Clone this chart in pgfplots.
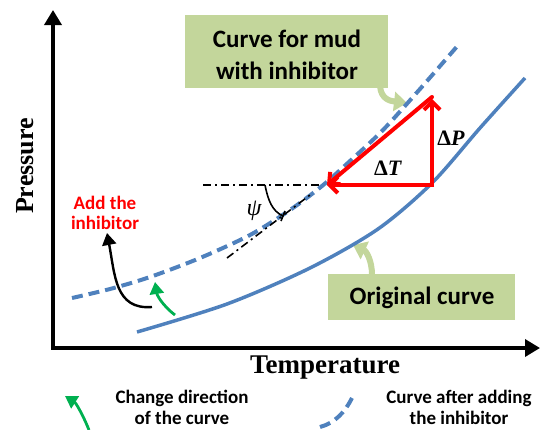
\documentclass[border=0pt]{standalone}
\usepackage{pgfplots}
\pgfplotsset{compat=1.18}
\usepackage{fontspec}
\setmainfont{Liberation Serif}
\newfontfamily\calibri{Carlito}
\usetikzlibrary{arrows.meta}
\definecolor{cblue}{RGB}{79,129,189}
\definecolor{cgreenbox}{RGB}{195,214,155}
\definecolor{cgreen}{RGB}{0,176,80}
\begin{document}
\begin{tikzpicture}
\begin{axis}[scale only axis, width=541pt, height=429pt,
  xmin=0, xmax=541, ymin=0, ymax=429, y dir=reverse,
  hide axis, clip=false]
% callout boxes
\fill[cgreenbox] (185,15) rectangle (388,88);
\draw[cgreenbox, line width=6pt, -{Triangle[length=13pt,width=19pt]}] (380,86) .. controls (381,99) and (390,101) .. (407,103);
\fill[cgreenbox] (328,274) rectangle (515,320);
\draw[cgreenbox, line width=6pt, -{Triangle[length=13pt,width=19pt]}] (372,275) .. controls (372,260) and (366,251) .. (353,245);
% axes
\draw[line width=3.5pt, {Triangle[length=15pt,width=17pt]}-{Triangle[length=15pt,width=17pt]}] (53,10) -- (53,348) -- (540,348);
% original curve
\addplot[cblue, line width=3.5pt, smooth] coordinates {
 (137,332) (227,304) (310,268) (378,229) (432,183) (480,128) (525,78)};
% curve with inhibitor
\addplot[cblue, line width=4pt, smooth, dash pattern=on 11pt off 6pt] coordinates {
 (72,298) (110,289) (150,277) (200,258) (250,235) (290,210) (322,186)
 (350,161) (383,130) (420,89) (460,43)};
% dash-dot lines
\addplot[black, line width=1.6pt, dash pattern=on 8pt off 4pt on 2pt off 4pt] coordinates {(203,185) (322,185)};
\addplot[black, line width=1.6pt, dash pattern=on 8pt off 4pt on 2pt off 4pt] coordinates {(227,258) (310,195)};
% psi arc
\draw[line width=1.6pt] (265,185) .. controls (268,200) and (272,211) .. (283,216);
\draw[line width=1.6pt] (281,221) -- (285,211);
\node[font=\itshape\fontsize{24}{26}\selectfont] at (254,211) {ψ};
% red triangle
\draw[red, line width=4pt, -{Straight Barb[length=8pt,width=16pt]}] (432,187) -- (432,99);
\draw[red, line width=4pt, line cap=round, -{Straight Barb[length=8pt,width=16pt]}] (432,97) -- (327,185);
\draw[red, line width=4pt, -{Straight Barb[length=8pt,width=16pt]}] (434,185) -- (327,185);
\node[font=\bfseries\fontsize{22}{24}\selectfont] at (388,168) {Δ\textit{T}};
\node[font=\bfseries\fontsize{22}{24}\selectfont] at (451,138) {Δ\textit{P}};
% black and green arrows
\draw[black, line width=2.4pt, -{Triangle[length=12pt,width=14pt]}] (152,307) .. controls (115,310) and (115,275) .. (107,233);
\draw[cgreen, line width=2.8pt, -{Triangle[length=12pt,width=14pt]}] (175,315) .. controls (162,305) and (157,295) .. (155,282);
% labels
\node[font=\calibri\bfseries\fontsize{25}{32}\selectfont, align=center] at (287,55) {Curve for mud\\with inhibitor};
\node[font=\calibri\bfseries\fontsize{25}{30}\selectfont] at (422,298) {Original curve};
\node[font=\calibri\bfseries\fontsize{19}{20}\selectfont, text=red, align=center] at (105,213) {Add the\\inhibitor};
\node[font=\bfseries\fontsize{27}{30}\selectfont] at (325,368) {Temperature};
\node[rotate=90, font=\bfseries\fontsize{26}{30}\selectfont] at (25,166) {Pressure};
% legend
\draw[cgreen, line width=2.8pt, -{Triangle[length=12pt,width=14pt]}] (89,430) .. controls (83,415) and (76,403) .. (65,396);
\node[font=\calibri\bfseries\fontsize{19}{21}\selectfont, align=center] at (182,407) {Change direction\\of the curve};
\draw[cblue, line width=4pt, dash pattern=on 11pt off 6pt] (320,427) .. controls (335,423) and (345,412) .. (352,398);
\node[font=\calibri\bfseries\fontsize{19}{21}\selectfont, align=center] at (459,407) {Curve after adding\\the inhibitor};
\end{axis}
\pgfresetboundingbox
\path[use as bounding box] (current axis.south west) rectangle (current axis.north east);
\end{tikzpicture}
\end{document}
